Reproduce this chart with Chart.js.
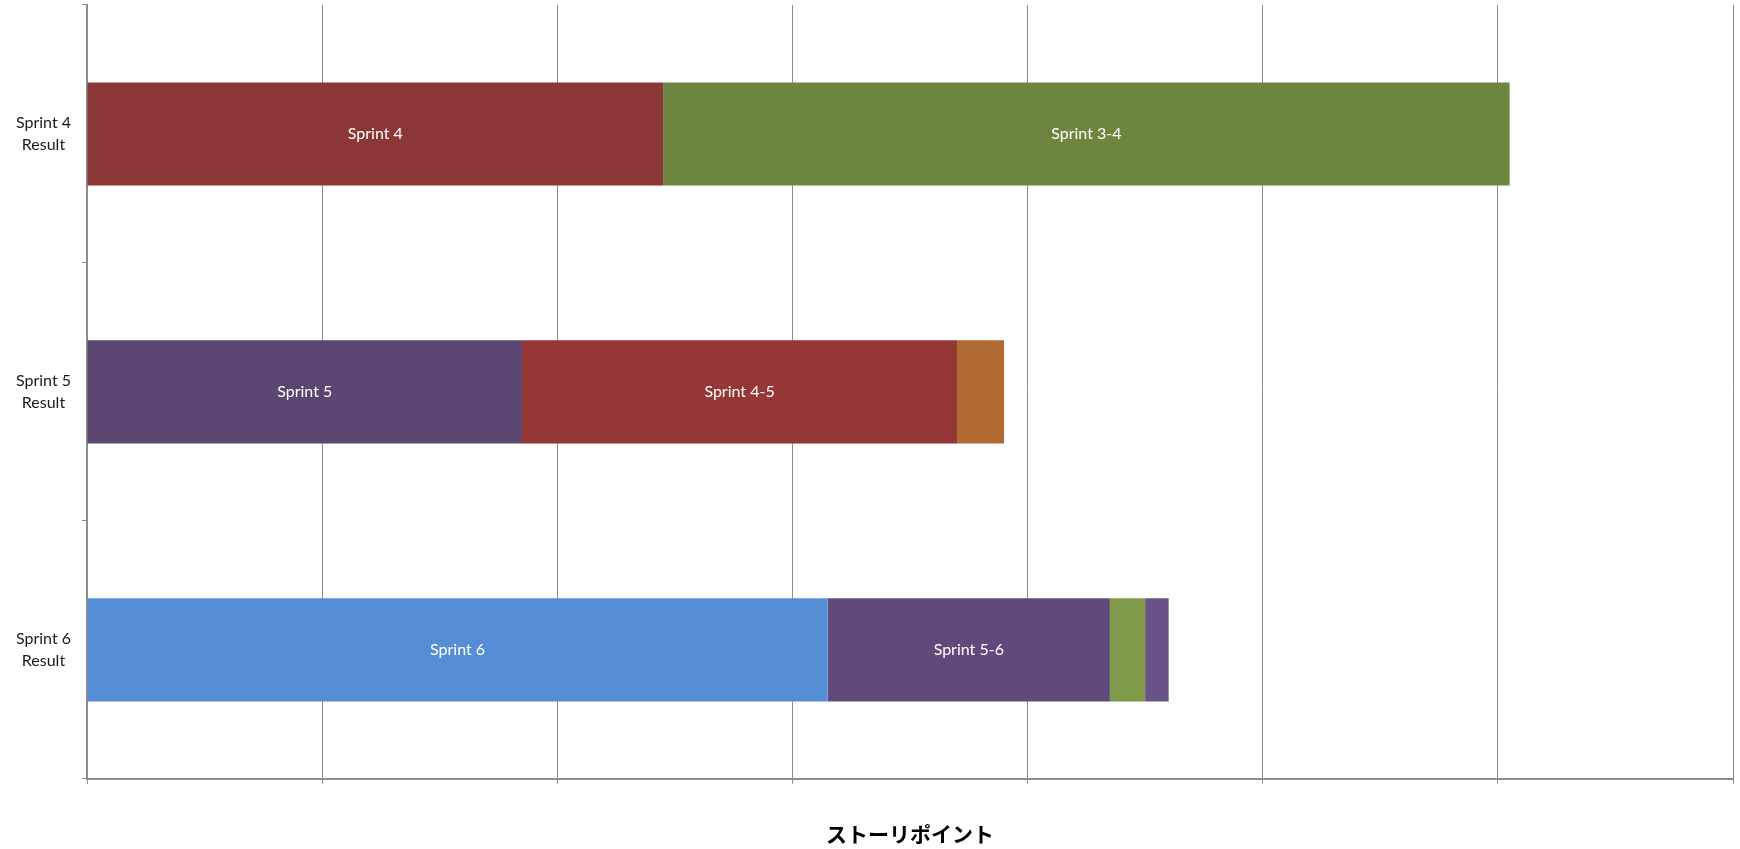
<!DOCTYPE html>
<html>
<head>
<meta charset="utf-8">
<title>ストーリポイント</title>
<script src="https://cdn.jsdelivr.net/npm/chart.js@4.4.1/dist/chart.umd.min.js"></script>
<style>
    html, body { margin: 0; padding: 0; background: #ffffff; }
    #chartBox { width: 1740px; height: 849px; position: relative; }
</style>
</head>
<body>
<div id="chartBox">
    <canvas id="velocityChart"></canvas>
</div>
<script>
// Sprint results (story points), one row per result
const categories = [['Sprint 4', 'Result'], ['Sprint 5', 'Result'], ['Sprint 6', 'Result']];

const seriesNames = ['Sprint 4', 'Sprint 3-4', 'Sprint 5', 'Sprint 4-5', 'Sprint 3-5',
    'Sprint 6', 'Sprint 5-6', 'Sprint 4-6', 'Sprint 3-6'];

const sprint4    = [24.5, null, null];
const sprint3to4 = [36, null, null];
const sprint5    = [null, 18.5, null];
const sprint4to5 = [null, 18.5, null];
const sprint3to5 = [null, 2, null];
const sprint6    = [null, null, 31.5];
const sprint5to6 = [null, null, 12];
const sprint4to6 = [null, null, 1.5];
const sprint3to6 = [null, null, 1];

const seriesValues = [sprint4, sprint3to4, sprint5, sprint4to5, sprint3to5,
    sprint6, sprint5to6, sprint4to6, sprint3to6];

const seriesColors = ['#8a3735', '#6e853f', '#5b4571', '#953735', '#b06a32',
    '#558ed5', '#614a7b', '#7f9a48', '#695287'];

const xMax = 70;
const xStep = 10;

const axisGray = '#8c8c8c';

// writes the series name in the middle of each segment wide enough to hold it
const segmentLabels = {
    id: 'segmentLabels',
    afterDatasetsDraw(chart) {
        const ctx = chart.ctx;
        ctx.save();
        ctx.font = '16px Lato, "Open Sans", sans-serif';
        ctx.fillStyle = '#ffffff';
        ctx.textAlign = 'center';
        ctx.textBaseline = 'middle';
        chart.data.datasets.forEach(function (ds, i) {
            const meta = chart.getDatasetMeta(i);
            meta.data.forEach(function (bar, j) {
                if (ds.data[j] == null) return;
                const p = bar.getProps(['x', 'y', 'base'], true);
                const w = Math.abs(p.x - p.base);
                if (w < ctx.measureText(ds.label).width + 10) return;
                ctx.fillText(ds.label, (p.x + p.base) / 2, p.y);
            });
        });
        ctx.restore();
    }
};

const ctx = document.getElementById('velocityChart').getContext('2d');

new Chart(ctx, {
    type: 'bar',
    data: {
        labels: categories,
        datasets: seriesNames.map(function (name, i) {
            return {
                label: name,
                data: seriesValues[i],
                backgroundColor: seriesColors[i],
                borderWidth: 0,
                categoryPercentage: 1,
                barPercentage: 0.4
            };
        })
    },
    plugins: [segmentLabels],
    options: {
        indexAxis: 'y',
        responsive: true,
        maintainAspectRatio: false,
        animation: false,
        layout: {
            padding: { top: 5, right: 7, bottom: 0, left: 0 }
        },
        plugins: {
            legend: { display: false },
            tooltip: { enabled: false }
        },
        scales: {
            x: {
                stacked: true,
                min: 0,
                max: xMax,
                ticks: {
                    stepSize: xStep,
                    display: false
                },
                grid: {
                    color: axisGray,
                    lineWidth: 1,
                    drawTicks: true,
                    tickLength: 5
                },
                border: { color: axisGray, width: 2 },
                title: {
                    display: true,
                    text: 'ストーリポイント',
                    color: '#000000',
                    font: { family: '"Noto Sans CJK JP"', size: 21, weight: 'bold', lineHeight: 1.2 },
                    padding: { top: 38, bottom: 2 }
                }
            },
            y: {
                stacked: true,
                grid: {
                    offset: true,
                    drawOnChartArea: false,
                    drawTicks: true,
                    tickLength: 5,
                    color: axisGray
                },
                border: { color: axisGray, width: 2 },
                ticks: {
                    crossAlign: 'center',
                    padding: 11,
                    color: '#1a1a1a',
                    font: { family: 'Lato, "Open Sans", sans-serif', size: 16, lineHeight: 1.375 }
                },
                afterFit: function (scale) {
                    scale.width = 87;
                    // labels sit mid-category, so no extra room is needed at the ends
                    scale.paddingTop = 0;
                    scale.paddingBottom = 0;
                }
            }
        }
    }
});
</script>
</body>
</html>
